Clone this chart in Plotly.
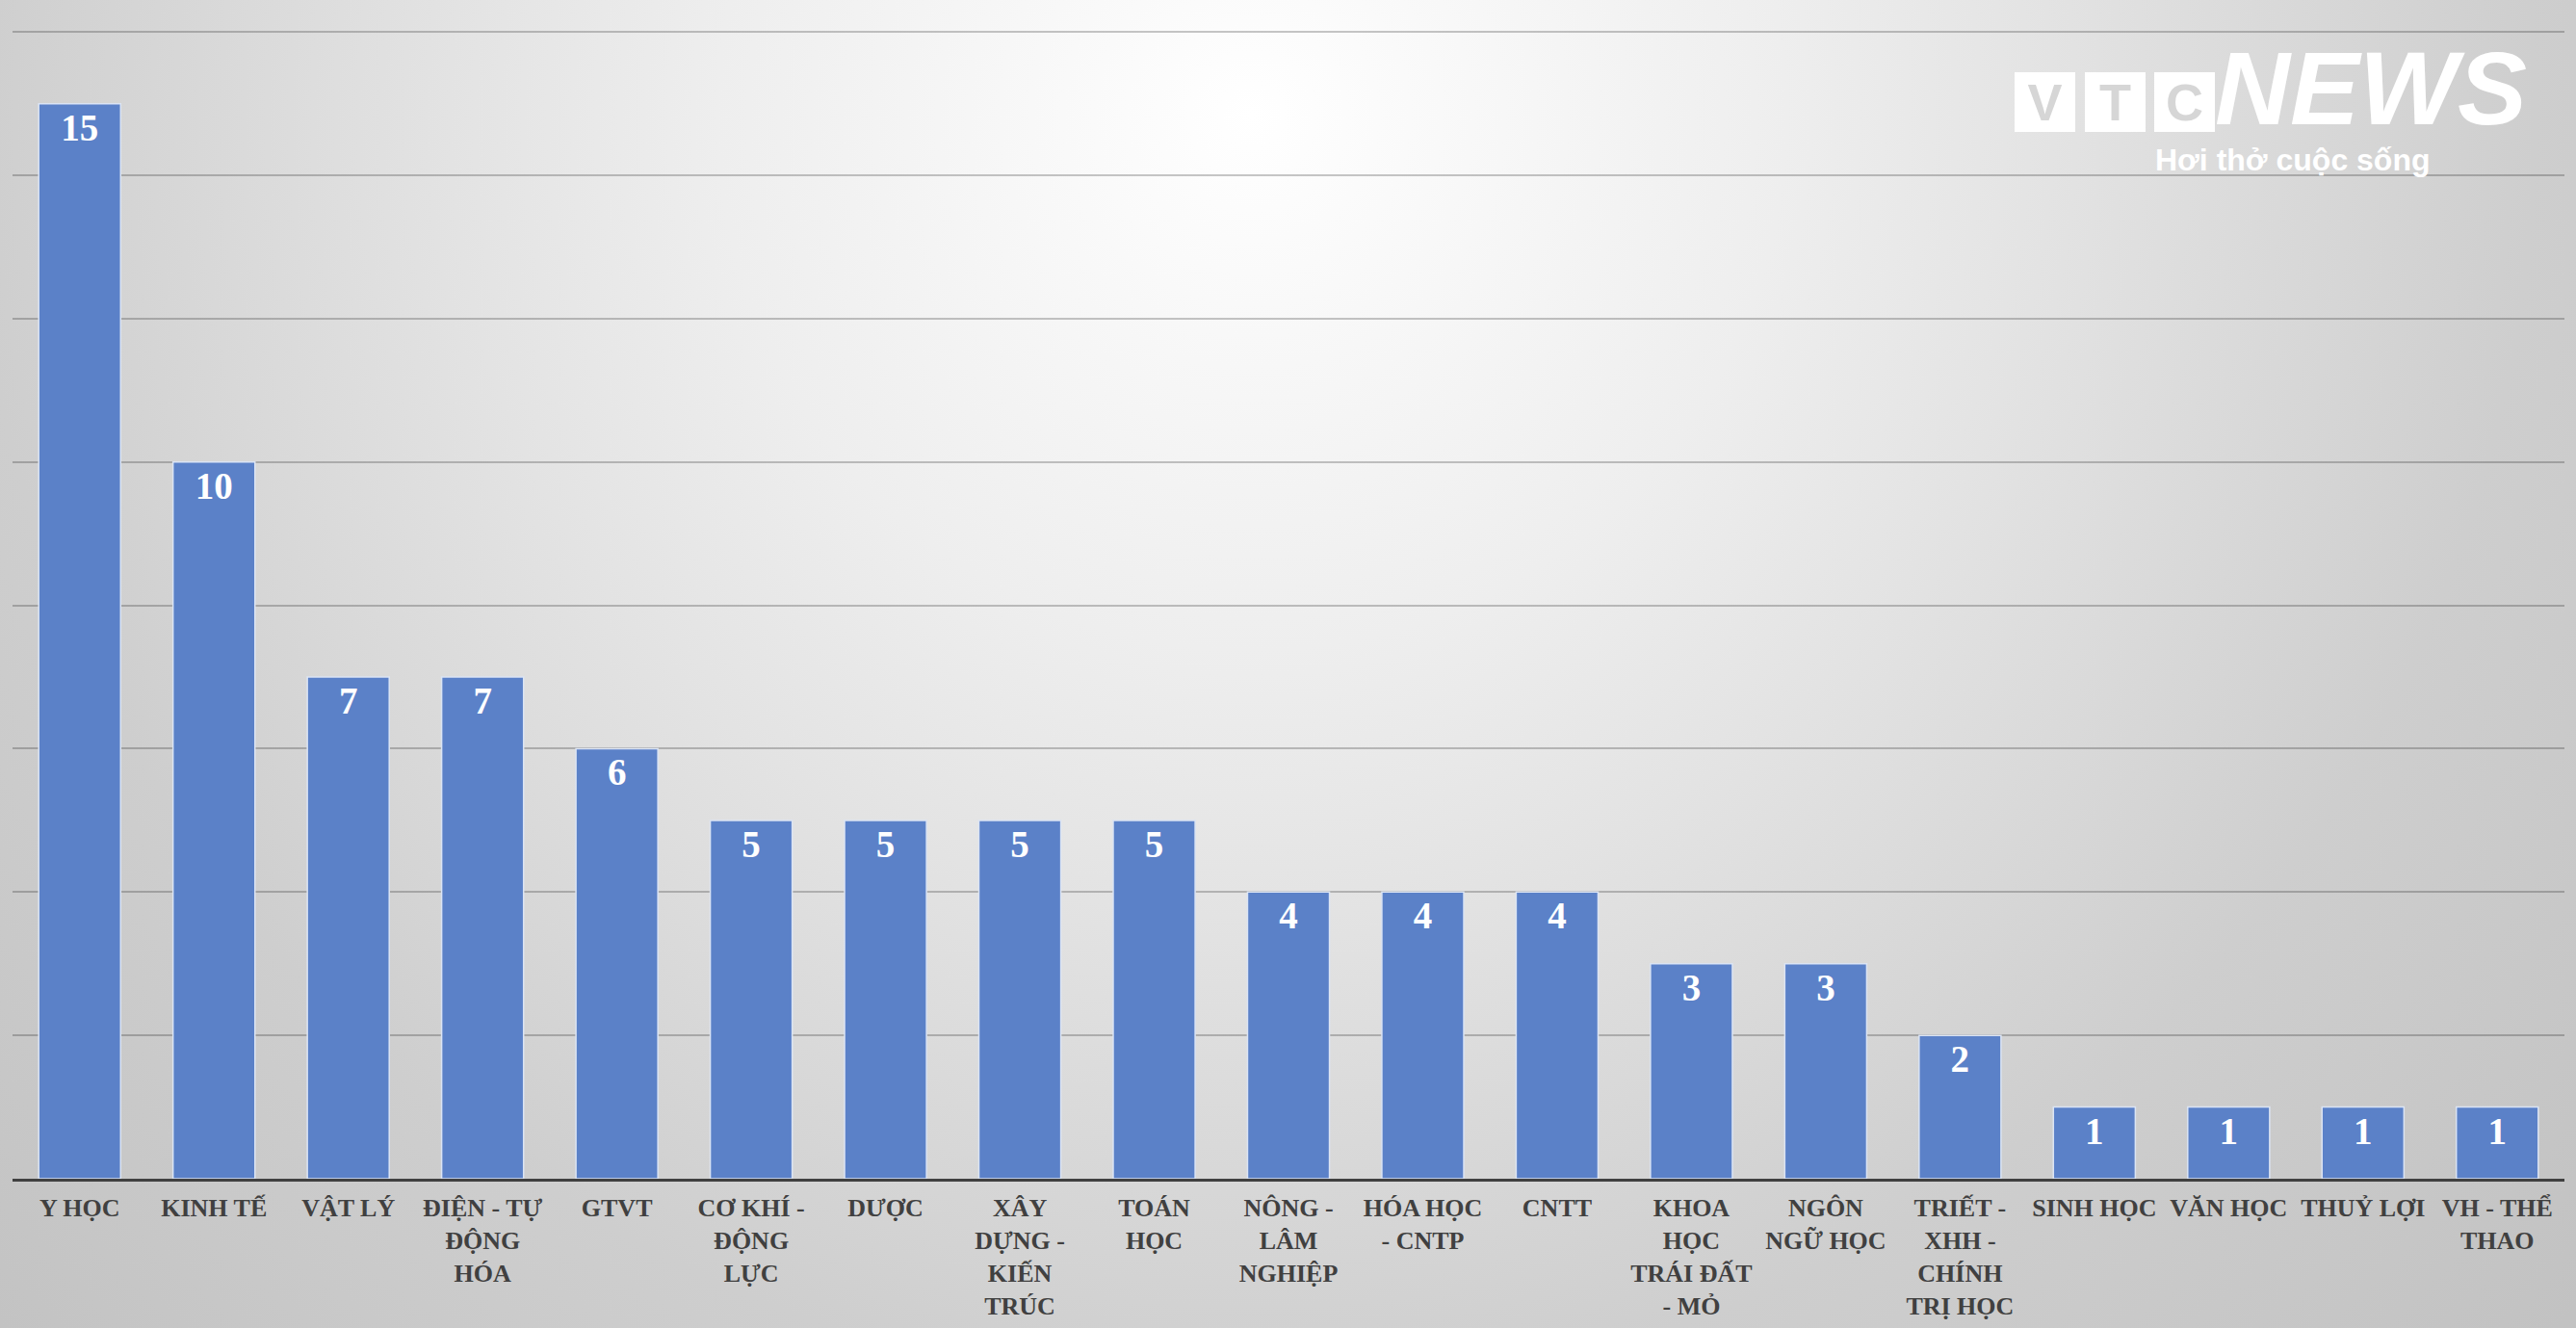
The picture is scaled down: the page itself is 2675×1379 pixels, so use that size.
import plotly.graph_objects as go
import urllib.parse

# ---- data ----
categories = ["Y HỌC", "KINH TẾ", "VẬT LÝ", "ĐIỆN - TỰ ĐỘNG HÓA", "GTVT",
              "CƠ KHÍ - ĐỘNG LỰC", "DƯỢC", "XÂY DỰNG - KIẾN TRÚC", "TOÁN HỌC",
              "NÔNG - LÂM NGHIỆP", "HÓA HỌC - CNTP", "CNTT", "KHOA HỌC TRÁI ĐẤT - MỎ",
              "NGÔN NGỮ HỌC", "TRIẾT - XHH - CHÍNH TRỊ HỌC", "SINH HỌC", "VĂN HỌC",
              "THUỶ LỢI", "VH - THỂ THAO"]
values = [15, 10, 7, 7, 6, 5, 5, 5, 5, 4, 4, 4, 3, 3, 2, 1, 1, 1, 1]
tick_labels = ["Y HỌC", "KINH TẾ", "VẬT LÝ", "ĐIỆN - TỰ<br>ĐỘNG<br>HÓA", "GTVT",
               "CƠ KHÍ -<br>ĐỘNG<br>LỰC", "DƯỢC", "XÂY<br>DỰNG -<br>KIẾN<br>TRÚC",
               "TOÁN<br>HỌC", "NÔNG -<br>LÂM<br>NGHIỆP", "HÓA HỌC<br>- CNTP", "CNTT",
               "KHOA<br>HỌC<br>TRÁI ĐẤT<br>- MỎ", "NGÔN<br>NGỮ HỌC",
               "TRIẾT -<br>XHH -<br>CHÍNH<br>TRỊ HỌC", "SINH HỌC", "VĂN HỌC",
               "THUỶ LỢI", "VH - THỂ<br>THAO"]
y_range = [0, 16.03]
y_dtick = 2

# ---- page geometry ----
W, H = 2675, 1379
ML, MR, MT, MB = 13, 12, 31, 155
PW, PH = W - ML - MR, H - MT - MB


def px_x(x):
    return (x - ML) / PW


def px_y(y):
    return 1 - (y - MT) / PH


# background radial gradient as an svg image
svg = f"""<svg xmlns='http://www.w3.org/2000/svg' width='{W}' height='{H}' viewBox='0 0 {W} {H}' preserveAspectRatio='none'>
<defs><radialGradient id='g' cx='1300' cy='120' r='1850' gradientUnits='userSpaceOnUse'>
<stop offset='0' stop-color='#ffffff'/>
<stop offset='0.3' stop-color='#eeeeee'/>
<stop offset='0.45' stop-color='#e3e3e3'/>
<stop offset='0.72' stop-color='#cecece'/>
<stop offset='1' stop-color='#c2c2c2'/>
</radialGradient></defs>
<rect x='0' y='0' width='{W}' height='{H}' fill='url(#g)'/>
</svg>"""
bg_uri = "data:image/svg+xml;charset=utf-8," + urllib.parse.quote(svg)

fig = go.Figure()
fig.add_trace(go.Bar(
    x=categories, y=values, text=values,
    textposition="inside", insidetextanchor="end", textangle=0,
    textfont=dict(family="Liberation Serif", size=39, color="white", weight="bold"),
    marker=dict(color="#5b81c8", line=dict(color="#dbe4f4", width=1.5)),
    cliponaxis=False,
))

annotations = []
# VTC boxes
for letter, x0 in [("V", 2092), ("T", 2165), ("C", 2237)]:
    annotations.append(dict(
        text=letter, xref="paper", yref="paper",
        x=px_x(x0), y=px_y(75), xanchor="left", yanchor="top",
        width=63, height=62, bgcolor="white", borderpad=0, borderwidth=0,
        showarrow=False, align="center", valign="middle",
        font=dict(family="Liberation Sans", size=54, color="#d6d6d6", weight="bold"),
    ))
annotations.append(dict(
    text="<i>NEWS</i>", xref="paper", yref="paper",
    x=px_x(2298), y=px_y(137), xanchor="left", yanchor="bottom",
    showarrow=False, yshift=-17,
    font=dict(family="Liberation Sans", size=108, color="white", weight=900),
))
annotations.append(dict(
    text="Hơi thở cuộc sống", xref="paper", yref="paper",
    x=px_x(2381), y=px_y(166), xanchor="center", yanchor="middle",
    showarrow=False,
    font=dict(family="Liberation Sans", size=32, color="white", weight="bold"),
))

fig.update_layout(
    width=W, height=H,
    margin=dict(l=ML, r=MR, t=MT, b=MB, pad=0, autoexpand=False),
    paper_bgcolor="#dcdcdc", plot_bgcolor="rgba(0,0,0,0)",
    bargap=0.39, showlegend=False,
    images=[dict(source=bg_uri, xref="paper", yref="paper",
                 x=-ML / PW, y=1 + MT / PH, sizex=W / PW, sizey=H / PH,
                 xanchor="left", yanchor="top", sizing="stretch", layer="below")],
    annotations=annotations,
    xaxis=dict(
        tickmode="array", tickvals=categories, ticktext=tick_labels,
        tickfont=dict(family="Liberation Serif", size=26, color="#404040", weight="bold"),
        showline=True, linecolor="#404040", linewidth=3,
        ticks="outside", ticklen=5, tickcolor="rgba(0,0,0,0)",
        showgrid=False, zeroline=False, fixedrange=True, automargin=False,
    ),
    yaxis=dict(
        range=y_range, dtick=y_dtick, showticklabels=False,
        showgrid=True, gridcolor="rgba(0,0,0,0.22)", gridwidth=2,
        zeroline=False, showline=False, fixedrange=True, automargin=False,
    ),
)

fig.write_html("out.html")
